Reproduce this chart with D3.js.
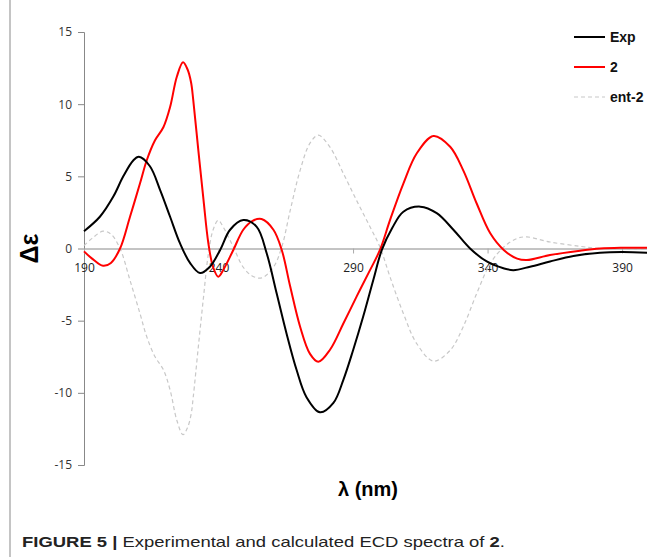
<!DOCTYPE html>
<html>
<head>
<meta charset="utf-8">
<script src="https://cdn.jsdelivr.net/npm/d3@7"></script>
<style>
  body { margin: 0; background: #fff; }
  svg { display: block; }
  text { font-family: "Liberation Sans", Arial, sans-serif; }
</style>
</head>
<body>
<svg id="svg" width="647" height="557"></svg>
<script>
// experimental spectrum
var expX = [190, 195.9, 200.9, 204.6, 208.3, 210.4, 214.5, 218.3, 222, 225.7, 229.4, 233.1, 236.8, 240.6, 244.3, 249.2, 254.2, 257.9, 261.6, 265.3, 269, 272.7, 277.7, 282.7, 286.4, 290.1, 293.8, 297.5, 300.7, 304.5, 308.7, 315, 321.1, 327.3, 333.5, 339.7, 345.9, 349.6, 355.8, 363.2, 371.9, 381.8, 390, 400];
var expY = [1.2, 2.2, 3.6, 5.0, 6.1, 6.35, 5.7, 4.05, 2.2, 0.35, -1.0, -1.7, -1.26, -0.1, 1.3, 1.97, 1.5, -0.33, -3.1, -5.9, -8.4, -10.3, -11.35, -10.7, -9.1, -7.0, -4.7, -2.2, -0.1, 1.4, 2.55, 2.9, 2.45, 1.3, 0, -0.9, -1.37, -1.5, -1.26, -0.9, -0.52, -0.3, -0.25, -0.3];

// calculated for 2
var calcX = [190, 193, 197.1, 200, 203.4, 207.1, 210.8, 213.3, 216.4, 219.5, 222, 224.5, 226.8, 228.5, 229.8, 230.6, 232.5, 234.4, 236.2, 238, 239.9, 242, 245.5, 249.2, 252.5, 256, 260.4, 263.5, 266.6, 270.3, 274, 277.1, 281.5, 286.4, 291.4, 296.3, 300, 303.8, 308.7, 313.7, 319.9, 326.1, 331, 336, 341, 346, 351, 354.6, 363.2, 374.4, 381.8, 390, 400];
var calcY = [-0.2, -0.7, -1.2, -1.0, 0, 2.2, 4.5, 6.1, 7.5, 8.4, 9.8, 11.9, 12.9, 12.4, 11.5, 10.3, 6.8, 3.4, 0.4, -1.3, -1.95, -1.4, -0.1, 1.3, 1.9, 2.04, 1.3, -0.1, -2.6, -5.4, -7.3, -7.85, -7.0, -5.2, -3.3, -1.5, -0.1, 2.0, 4.5, 6.6, 7.8, 7.05, 5.4, 3.1, 1.05, -0.1, -0.7, -0.8, -0.45, -0.15, 0, 0.05, 0.05];

// calculated for ent-2
var entX = [190, 193, 197.1, 200, 203.4, 207.1, 210.8, 213.3, 216.4, 219.5, 222, 224.5, 226.8, 228.5, 229.8, 230.6, 232.5, 234.4, 236.2, 238, 239.9, 242, 245.5, 249.2, 252.5, 256, 260.4, 263.5, 266.6, 270.3, 274, 277.1, 281.5, 286.4, 291.4, 296.3, 300, 303.8, 308.7, 313.7, 319.9, 326.1, 331, 336, 341, 346, 351, 354.6, 363.2, 374.4, 381.8, 390, 400];
var entY = [0.2, 0.7, 1.2, 1.0, 0, -2.2, -4.5, -6.1, -7.5, -8.4, -9.8, -11.9, -12.9, -12.4, -11.5, -10.3, -6.8, -3.4, -0.4, 1.3, 1.95, 1.4, 0.1, -1.3, -1.9, -2.04, -1.3, 0.1, 2.6, 5.4, 7.3, 7.85, 7.0, 5.2, 3.3, 1.5, 0.1, -2.0, -4.5, -6.6, -7.8, -7.05, -5.4, -3.1, -1.05, 0.1, 0.7, 0.8, 0.45, 0.15, 0, -0.05, -0.05];

var xTicks = [190, 240, 290, 340, 390];
var yTicks = [-15, -10, -5, 0, 5, 10, 15];
var seriesNames = ["Exp", "2", "ent-2"];

var svg = d3.select("#svg");

var x = d3.scaleLinear().domain([190, 400]).range([84, 649]);
var y = d3.scaleLinear().domain([-15, 15]).range([465, 32]);

// left page rule
svg.append("line")
  .attr("x1", 10).attr("x2", 10)
  .attr("y1", 0).attr("y2", 557)
  .attr("stroke", "#c4c4c4")
  .attr("stroke-width", 2);

// y axis, plain hyphen for negatives like the original
var yAxis = svg.append("g")
  .attr("transform", "translate(" + x(190) + ",0)")
  .call(d3.axisLeft(y).tickValues(yTicks).tickSize(6).tickPadding(6)
    .tickFormat(d => String(d)));
yAxis.select(".domain").attr("stroke", "#888");
yAxis.selectAll(".tick line").attr("stroke", "#888");
yAxis.selectAll(".tick text")
  .attr("fill", "#333")
  .style("font-size", "12px")
  .style("font-family", "'Open Sans', sans-serif");

// x axis on the zero line
var xAxis = svg.append("g")
  .attr("transform", "translate(0," + y(0) + ")")
  .call(d3.axisBottom(x).tickValues(xTicks).tickSize(5).tickPadding(10).tickSizeOuter(0));
xAxis.select(".domain").attr("stroke", "#888");
xAxis.selectAll(".tick line").attr("stroke", "#aaa");
xAxis.selectAll(".tick text")
  .attr("fill", "#222")
  .style("font-size", "12px")
  .style("font-family", "'Open Sans', sans-serif");

var line = d3.line().curve(d3.curveCatmullRom.alpha(0.5))
  .x(d => x(d[0]))
  .y(d => y(d[1]));

var entData = d3.zip(entX, entY);
var calcData = d3.zip(calcX, calcY);
var expData = d3.zip(expX, expY);

svg.append("path")
  .datum(entData)
  .attr("d", line)
  .attr("fill", "none")
  .attr("stroke", "#c8c8c8")
  .attr("stroke-width", 1.2)
  .attr("stroke-dasharray", "4,3");

svg.append("path")
  .datum(calcData)
  .attr("d", line)
  .attr("fill", "none")
  .attr("stroke", "#ff0000")
  .attr("stroke-width", 2);

svg.append("path")
  .datum(expData)
  .attr("d", line)
  .attr("fill", "none")
  .attr("stroke", "#000")
  .attr("stroke-width", 2);

// legend
var legendStyles = [
  { stroke: "#000", width: 2, dash: null },
  { stroke: "#ff0000", width: 2, dash: null },
  { stroke: "#c8c8c8", width: 1.2, dash: "4,3" }
];
var legend = svg.append("g");
seriesNames.forEach(function (name, i) {
  var ly = 37 + i * 30;
  legend.append("line")
    .attr("x1", 574).attr("x2", 605)
    .attr("y1", ly).attr("y2", ly)
    .attr("stroke", legendStyles[i].stroke)
    .attr("stroke-width", legendStyles[i].width)
    .attr("stroke-dasharray", legendStyles[i].dash);
  legend.append("text")
    .attr("x", 610).attr("y", ly + 5)
    .style("font-size", "14px")
    .style("font-weight", "bold")
    .attr("fill", "#111")
    .text(name);
});

// axis titles
svg.append("text")
  .attr("transform", "translate(38," + y(0) + ") rotate(-90)")
  .attr("text-anchor", "middle")
  .style("font-size", "25px")
  .style("font-weight", "bold")
  .text("Δε");

svg.append("text")
  .attr("x", 368).attr("y", 496)
  .attr("text-anchor", "middle")
  .style("font-size", "20px")
  .style("font-weight", "bold")
  .text("λ (nm)");

// caption
var cap = svg.append("text")
  .attr("x", 22).attr("y", 547)
  .attr("fill", "#222")
  .style("font-size", "15px")
  .attr("textLength", 483)
  .attr("lengthAdjust", "spacingAndGlyphs");
cap.append("tspan").style("font-weight", "bold").text("FIGURE 5 | ");
cap.append("tspan").text("Experimental and calculated ECD spectra of ");
cap.append("tspan").style("font-weight", "bold").text("2");
cap.append("tspan").text(".");
</script>
</body>
</html>
